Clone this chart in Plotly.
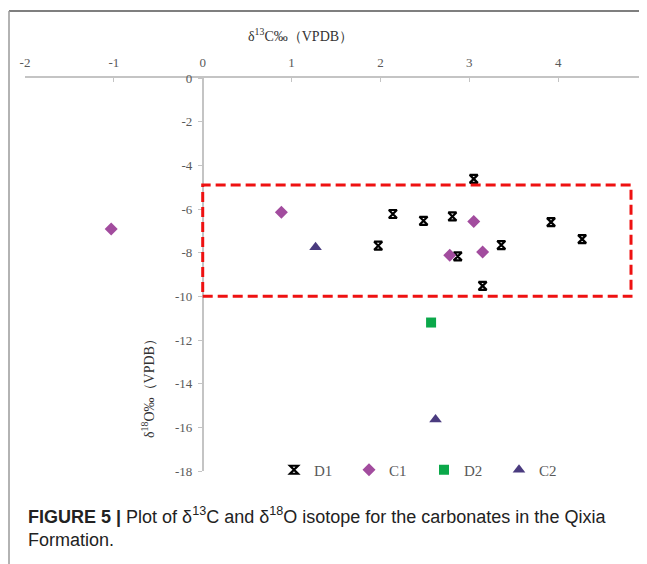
import plotly.graph_objects as go

# ---- data ----
d1_x = [1.975, 2.14, 2.485, 2.81, 3.05, 2.87, 3.15, 3.36, 3.92, 4.27]
d1_y = [-7.68, -6.23, -6.54, -6.34, -4.62, -8.17, -9.52, -7.65, -6.60, -7.38]
c1_x = [-1.03, 0.885, 3.05, 2.78, 3.15]
c1_y = [-6.92, -6.15, -6.57, -8.12, -7.97]
d2_x = [2.57]
d2_y = [-11.20]
c2_x = [1.27, 2.62]
c2_y = [-7.75, -15.64]

x_ticks = [-2, -1, 0, 1, 2, 3, 4, 5]
x_ticktext = ["-2", "-1", "0", "1", "2", "3", "4", "5"]
y_ticks = [0, -2, -4, -6, -8, -10, -12, -14, -16, -18]
y_ticktext = ["0", "-2", "-4", "-6", "-8", "-10", "-12", "-14", "-16", "-18"]

# highlighted region (data coordinates)
box_x = [0, 4.82]
box_y = [-10.0, -4.9]

# page has an 8px body margin; target positions are given in page pixels
OFF = 8
W, H = 647 - OFF, 564 - OFF
ML, MR, MT = 25 - OFF, 0, 78 - OFF
MB = H - (471 - OFF)
PW, PH = W - ML - MR, H - MT - MB

def px(p):
    return (p - OFF - ML) / PW

def py(p):
    return (H - MB - (p - OFF)) / PH

fig = go.Figure()
fig.add_trace(go.Scatter(x=d1_x, y=d1_y, mode="markers", name="D1",
                         marker=dict(symbol="hourglass-open", size=8, color="black",
                                     line=dict(width=2.2, color="black")),
                         cliponaxis=False))
fig.add_trace(go.Scatter(x=c1_x, y=c1_y, mode="markers", name="C1",
                         marker=dict(symbol="diamond", size=10, color="#A24C9E"),
                         cliponaxis=False))
fig.add_trace(go.Scatter(x=d2_x, y=d2_y, mode="markers", name="D2",
                         marker=dict(symbol="square", size=10, color="#0BA84A"),
                         cliponaxis=False))
fig.add_trace(go.Scatter(x=c2_x, y=c2_y, mode="markers", name="C2",
                         marker=dict(symbol="triangle-up", size=11, color="#4A3B7F"),
                         cliponaxis=False))

axis_col = "#c4c4c4"
serif = "Liberation Serif, Times New Roman, serif"
tick_font = dict(family=serif, size=13, color="#595959")

fig.update_layout(
    width=W, height=H,
    margin=dict(l=ML, r=MR, t=MT, b=MB, pad=0),
    paper_bgcolor="white", plot_bgcolor="white",
    showlegend=True,
    legend=dict(orientation="h", x=px(274), y=py(470), xanchor="left", yanchor="middle",
                font=dict(family=serif, size=15, color="#595959"),
                bgcolor="rgba(0,0,0,0)", entrywidth=30, itemwidth=30,
                tracegroupgap=0),
    xaxis=dict(range=[-2, 5], side="top", tickvals=x_ticks, ticktext=x_ticktext,
               ticks="inside", ticklen=4,
               tickcolor=axis_col, showline=True, linecolor=axis_col, linewidth=1.5,
               tickfont=tick_font, showgrid=False, zeroline=False, ticklabelstandoff=4,
               layer="below traces"),
    yaxis=dict(range=[-18, 0], anchor="free", position=px(202.7), tickvals=y_ticks,
               ticktext=y_ticktext,
               ticks="outside", ticklen=4, tickcolor=axis_col, showline=True,
               linecolor=axis_col, linewidth=1.5, tickfont=tick_font, showgrid=False,
               zeroline=False, ticklabelstandoff=3, layer="below traces"),
)

# red dashed highlight box
fig.add_shape(type="rect", xref="x", yref="y", x0=box_x[0], x1=box_x[1], y0=box_y[0], y1=box_y[1],
              line=dict(color="#EE1111", width=3, dash="10px,5px"), layer="above")

# outer frame (top and left edges)
fig.add_shape(type="line", xref="paper", yref="paper", x0=px(9), x1=px(700), y0=py(11), y1=py(11),
              line=dict(color="#555555", width=1.5))
fig.add_shape(type="line", xref="paper", yref="paper", x0=px(9), x1=px(9), y0=py(11), y1=py(600),
              line=dict(color="#9a9a9a", width=1.5))

# axis titles
fig.add_annotation(xref="paper", yref="paper", x=px(300), y=py(35), showarrow=False,
                   xanchor="center", yanchor="middle",
                   text="δ<sup>13</sup>C‰（VPDB）",
                   font=dict(family=serif, size=14, color="#333333"))
fig.add_annotation(xref="paper", yref="paper", x=px(148), y=py(385), showarrow=False,
                   xanchor="center", yanchor="middle",
                   textangle=-90, text="δ<sup>18</sup>O‰（VPDB）",
                   font=dict(family=serif, size=14, color="#333333"))

# caption
fig.add_annotation(xref="paper", yref="paper", x=px(26), y=py(502), xanchor="left", yanchor="top",
                   showarrow=False, align="left",
                   text="<b>FIGURE 5 |</b> Plot of δ<sup>13</sup>C and δ<sup>18</sup>O isotope for the carbonates in the Qixia<br>Formation.",
                   font=dict(family="Liberation Sans, Arial, sans-serif", size=18, color="#222222"))

fig.write_html("out.html")
